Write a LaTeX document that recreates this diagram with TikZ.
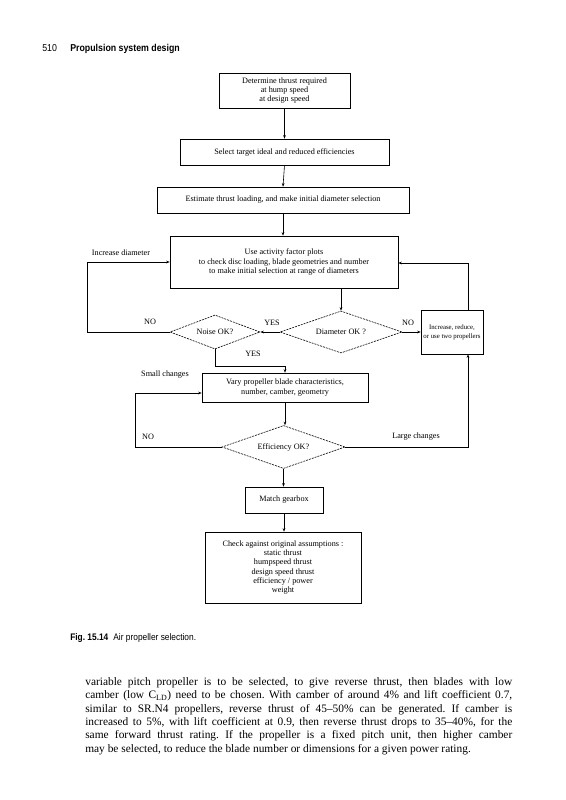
\documentclass[tikz,border=0pt]{standalone}
\usepackage{fontspec}
\setmainfont{Liberation Serif}
\newfontfamily\hdfont[FakeStretch=0.88]{Liberation Sans}
\usetikzlibrary{shapes.geometric,arrows.meta}
\begin{document}
\frenchspacing
\begin{tikzpicture}[x=1pt,y=-1pt,
  line width=0.6pt,
  every node/.append style={inner sep=0pt},
  box/.style={draw, rectangle, align=center, font=\fontsize{8.2}{9.2}\selectfont},
  dia/.style={draw, diamond, aspect=3, align=center, dash pattern=on 2pt off 1pt, font=\fontsize{8.2}{9.2}\selectfont},
  lbl/.style={font=\fontsize{8.2}{9.2}\selectfont},
  arr/.style={-{Stealth[length=3.5pt,width=2.6pt]}}
]
\useasboundingbox (0,0) rectangle (565,800);
\fill[white] (0,0) rectangle (565,800);

% header
\node[anchor=base west, font=\hdfont\fontsize{10}{12}\selectfont] (h1) at (42,52) {510};
\node[anchor=base west, font=\hdfont\bfseries\fontsize{10}{12}\selectfont] (h2) at (70,52) {Propulsion system design};

% boxes
\node[box, minimum width=131pt, minimum height=35pt] (b1) at (284.5,90.5) {Determine thrust required\\at hump speed\\at design speed};
\node[box, minimum width=209pt, minimum height=26pt] (b2) at (284.5,152) {Select target ideal and reduced efficiencies};
\node[box, minimum width=252pt, minimum height=26pt] (b3) at (283,200) {Estimate thrust loading, and make initial diameter selection};
\node[box, minimum width=228pt, minimum height=52pt] (b4) at (284,262) {Use activity factor plots\\to check disc loading, blade geometries and number\\to make initial selection at range of diameters};
\node[dia, minimum width=90pt, minimum height=34pt] (d1) at (215,332) {Noise OK?};
\node[dia, minimum width=122pt, minimum height=42pt] (d2) at (341,332) {Diameter OK ?};
\node[box, minimum width=62pt, minimum height=44pt, font=\fontsize{6.8}{9.2}\selectfont] (rb) at (452,332) {Increase, reduce,\\or use two propellers};
\node[box, minimum width=166pt, minimum height=29pt] (v) at (285,387.5) {Vary propeller blade characteristics,\\number, camber, geometry};
\node[dia, minimum width=123pt, minimum height=43pt] (e) at (283.5,447) {Efficiency OK?};
\node[box, minimum width=78pt, minimum height=26pt] (m) at (284,500) {Match gearbox};
\node[box, minimum width=156pt, minimum height=71pt] (c) at (283,567.5) {Check against original assumptions :\\static thrust\\humpspeed thrust\\design speed thrust\\efficiency / power\\weight};

% labels
\node[lbl] (lNO1) at (408,323) {NO};
\node[lbl] (lYES1) at (272,323) {YES};
\node[lbl] (lNO2) at (150,322) {NO};
\node[lbl] (lID) at (121,253) {Increase diameter};
\node[lbl] (lYES2) at (253,354) {YES};
\node[lbl] (lSC) at (165,375) {Small changes};
\node[lbl] (lNO3) at (148,437) {NO};
\node[lbl] (lLC) at (416,437) {Large changes};

% coordinates
\coordinate (cL1) at (87,332);
\coordinate (cL2) at (87,262);
\coordinate (cY) at (215,366);
\coordinate (cS1) at (135,447);
\coordinate (cS2) at (135,393);
\coordinate (cR1) at (468,447);
\coordinate (cR2) at (468,263);

% connectors
\draw[arr] (b1.south) -- (b2.north);
\draw[arr] (b2.south) -- (b3.north);
\draw[arr] (b3.south) -- (b3.south |- b4.north);
\draw[arr] (b4.south -| d2.north) -- (d2.north);
\draw[arr] (d2.east) -- (rb.west);
\draw[arr] (d2.west) -- (d1.east);
\draw[arr] (d1.west) -- (cL1) -- (cL2) -- (cL2 -| b4.west);
\draw[arr] (d1.south) -- (cY) -- (cY -| v.north) -- (v.north);
\draw[arr] (v.south) -- (v.south |- e.north);
\draw[arr] (e.west) -- (cS1) -- (cS2) -- (cS2 -| v.west);
\draw[arr] (e.east) -- (cR1) -- (cR1 |- rb.south);
\draw[arr] (cR2 |- rb.north) -- (cR2) -- (cR2 -| b4.east);
\draw[arr] (e.south) -- (e.south |- m.north);
\draw[arr] (m.south) -- (m.south |- c.north);

% caption
\node[anchor=base west, font=\hdfont\fontsize{9.5}{11}\selectfont] (cap) at (70,640) {\textbf{Fig. 15.14}\hspace{5pt}Air propeller selection.};

% body text
\node[anchor=north west, text width=427pt, align=justify, font=\fontsize{11.4}{13.4}\selectfont] (body) at (85,677) {variable pitch propeller is to be selected, to give reverse thrust, then blades with low\linebreak
camber (low C\textsubscript{LD}) need to be chosen. With camber of around 4\% and lift coefficient 0.7,\linebreak
similar to SR.N4 propellers, reverse thrust of 45--50\% can be generated. If camber is\linebreak
increased to 5\%, with lift coefficient at 0.9, then reverse thrust drops to 35--40\%, for the\linebreak
same forward thrust rating. If the propeller is a fixed pitch unit, then higher camber\linebreak
may be selected, to reduce the blade number or dimensions for a given power rating.};
\end{tikzpicture}
\end{document}
